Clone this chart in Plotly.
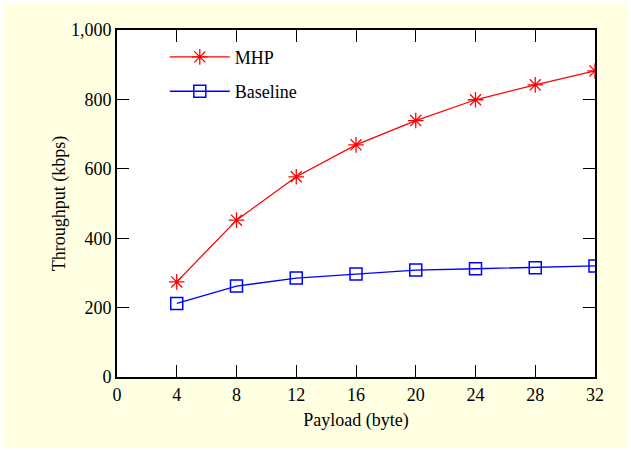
import plotly.graph_objects as go

payload = [4, 8, 12, 16, 20, 24, 28, 32]
mhp = [274, 452, 577, 669, 739, 799, 842, 882]
baseline = [212, 262, 285, 297, 308, 312, 315, 320]
x_ticks = [0, 4, 8, 12, 16, 20, 24, 28, 32]
y_ticks = [0, 200, 400, 600, 800, 1000]

FONT = "Liberation Serif, Times New Roman, serif"
FS = 18

fig = go.Figure()
fig.add_trace(go.Scatter(
    x=payload, y=mhp, name="MHP", mode="lines+markers", legendgroup="a",
    line=dict(color="#FF0000", width=1.3),
    marker=dict(symbol="asterisk-open", size=13, color="#FF0000",
                line=dict(color="#FF0000", width=1.3)),
))
fig.add_trace(go.Scatter(
    x=payload, y=baseline, name="Baseline", mode="lines+markers", legendgroup="b",
    line=dict(color="#0000FF", width=1.3),
    marker=dict(symbol="square-open", size=12, color="#0000FF",
                line=dict(color="#0000FF", width=1.5)),
))

# outer yellow panel and white plot area
fig.add_shape(type="rect", xref="paper", yref="paper", layer="below",
              x0=-113/478, x1=(628-117)/478, y0=-(447-377)/347, y1=(377-3)/347,
              fillcolor="rgb(255,255,225)", line=dict(width=0))
fig.add_shape(type="rect", xref="paper", yref="paper", layer="below",
              x0=0, x1=1, y0=0, y1=1, fillcolor="white", line=dict(width=0))

axis_common = dict(
    showline=True, linecolor="black", linewidth=2, mirror="ticks",
    ticks="inside", ticklen=12, tickwidth=1, tickcolor="black",
    showgrid=False, zeroline=False,
    tickfont=dict(family=FONT, size=FS, color="black"),
)
fig.update_xaxes(range=[0, 32], tickvals=x_ticks,
                 title=dict(text="Payload (byte)", font=dict(family=FONT, size=FS, color="black"), standoff=10),
                 **axis_common)
fig.update_yaxes(range=[0, 1000], tickvals=y_ticks, tickformat=",d",
                 title=dict(text="Throughput (kbps)", font=dict(family=FONT, size=FS, color="black"), standoff=1),
                 **axis_common)

fig.update_layout(
    width=631, height=450,
    margin=dict(l=117, r=36, t=30, b=73),
    paper_bgcolor="white", plot_bgcolor="white",
    font=dict(family=FONT, size=FS, color="black"),
    showlegend=True,
    legend=dict(x=0.10, y=0.975, xanchor="left", yanchor="top",
                bgcolor="rgba(0,0,0,0)", borderwidth=0,
                font=dict(family=FONT, size=FS, color="black"),
                itemwidth=60, tracegroupgap=8),
)

fig.write_html("out.html")
